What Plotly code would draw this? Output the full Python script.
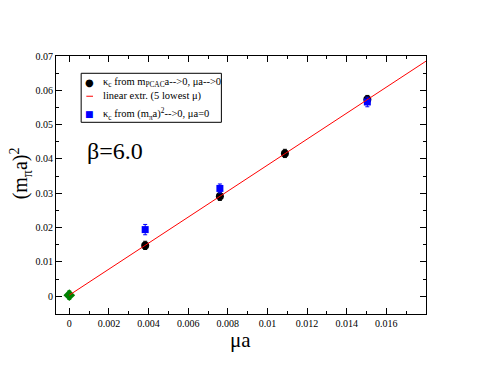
import plotly.graph_objects as go

# Data
mu_pcac = [0.00383, 0.0076, 0.01088, 0.01504]
m2_pcac = [0.0148, 0.0291, 0.0416, 0.0573]
err_pcac = [0.0012, 0.0012, 0.0012, 0.0012]

mu_pi = [0.00383, 0.0076, 0.01504]
m2_pi = [0.0194, 0.0314, 0.0566]
err_pi = [0.0015, 0.0013, 0.0014]

mu_chiral = [0.0]
m2_chiral = [0.0003]
err_chiral = [0.0012]

fit_x = [0.0, 0.018]
fit_y = [0.0003, 0.0685]

x_ticks = [0, 0.002, 0.004, 0.006, 0.008, 0.01, 0.012, 0.014, 0.016]
x_tick_text = ["0", "0.002", "0.004", "0.006", "0.008", "0.01", "0.012", "0.014", "0.016"]
y_ticks = [0, 0.01, 0.02, 0.03, 0.04, 0.05, 0.06, 0.07]
y_tick_text = ["0", "0.01", "0.02", "0.03", "0.04", "0.05", "0.06", "0.07"]

legend_labels = [
    "κ<sub>c</sub> from m<sub>PCAC</sub>a-->0, μa-->0",
    "linear extr. (5 lowest μ)",
    "κ<sub>c</sub> from (m<sub>π</sub>a)<sup>2</sup>-->0, μa=0",
]

font = "Liberation Serif"

fig = go.Figure()
fig.add_trace(go.Scatter(
    x=mu_pcac, y=m2_pcac, mode="markers",
    marker=dict(symbol="circle", size=8, color="black"),
    error_y=dict(type="data", array=err_pcac, color="black", thickness=1, width=2),
    showlegend=False,
))
fig.add_trace(go.Scatter(
    x=mu_pi, y=m2_pi, mode="markers",
    marker=dict(symbol="square", size=7, color="blue"),
    error_y=dict(type="data", array=err_pi, color="blue", thickness=1, width=2),
    showlegend=False,
))
fig.add_trace(go.Scatter(
    x=mu_chiral, y=m2_chiral, mode="markers",
    marker=dict(symbol="diamond", size=9, color="green"),
    error_y=dict(type="data", array=err_chiral, color="green", thickness=1, width=2),
    showlegend=False,
))
fig.add_trace(go.Scatter(
    x=fit_x, y=fit_y, mode="lines",
    line=dict(color="red", width=1),
    showlegend=False,
))

# Manual legend box (xmgrace style)
row_y = [0.8955, 0.844, 0.777]
annotations = []
for lab, yy in zip(legend_labels, row_y):
    annotations.append(dict(
        text=lab, x=0.1216, y=yy, xref="paper", yref="paper",
        showarrow=False, xanchor="left", yanchor="middle",
        font=dict(family=font, size=10.5, color="black"),
    ))
annotations.append(dict(text="●", x=0.09, y=row_y[0], xref="paper", yref="paper",
                        showarrow=False, xanchor="center", yanchor="middle",
                        font=dict(family="DejaVu Sans", size=10, color="black")))
annotations.append(dict(text="■", x=0.09, y=row_y[2], xref="paper", yref="paper",
                        showarrow=False, xanchor="center", yanchor="middle",
                        font=dict(family="DejaVu Sans", size=9, color="blue")))
annotations.append(dict(
    text="β=6.0", x=0.0008, y=0.0422, xref="x", yref="y",
    showarrow=False, xanchor="left", yanchor="middle",
    font=dict(family=font, size=24, color="black"),
))
annotations.append(dict(
    text="(m<sub>π</sub>a)<sup>2</sup>", x=-0.094, y=0.546, xref="paper", yref="paper",
    showarrow=False, xanchor="center", yanchor="middle", textangle=-90,
    font=dict(family=font, size=20, color="black"),
))
annotations.append(dict(
    text="μa", x=0.498, y=-0.1, xref="paper", yref="paper",
    showarrow=False, xanchor="center", yanchor="middle",
    font=dict(family=font, size=21, color="black"),
))

shapes = [
    dict(type="rect", xref="paper", yref="paper", x0=0.068, x1=0.447, y0=0.743, y1=0.933,
         line=dict(color="black", width=1), fillcolor="white", layer="above"),
    dict(type="line", xref="paper", yref="paper", x0=0.082, x1=0.100, y0=row_y[1], y1=row_y[1],
         line=dict(color="red", width=1), layer="above"),
]

fig.update_layout(
    width=471, height=362,
    margin=dict(l=48, r=53, t=48, b=56),
    paper_bgcolor="white", plot_bgcolor="white",
    font=dict(family=font, size=10, color="black"),
    showlegend=False,
    xaxis=dict(
        range=[-0.00067, 0.018], tickvals=x_ticks, ticktext=x_tick_text,
        ticks="inside", ticklen=6, tickcolor="black", mirror="allticks",
        showline=True, linecolor="black", linewidth=1, showgrid=False, zeroline=False,
        minor=dict(dtick=0.001, ticks="inside", ticklen=3, tickcolor="black"),
        tickfont=dict(family=font, size=10), automargin=False,
    ),
    yaxis=dict(
        range=[-0.0052, 0.07], tickvals=y_ticks, ticktext=y_tick_text,
        ticks="inside", ticklen=6, tickcolor="black", mirror="allticks",
        showline=True, linecolor="black", linewidth=1, showgrid=False, zeroline=False,
        minor=dict(dtick=0.005, ticks="inside", ticklen=3, tickcolor="black"),
        tickfont=dict(family=font, size=10), automargin=False,
    ),
    shapes=shapes,
    annotations=annotations,
)

fig.write_html("out.html")
